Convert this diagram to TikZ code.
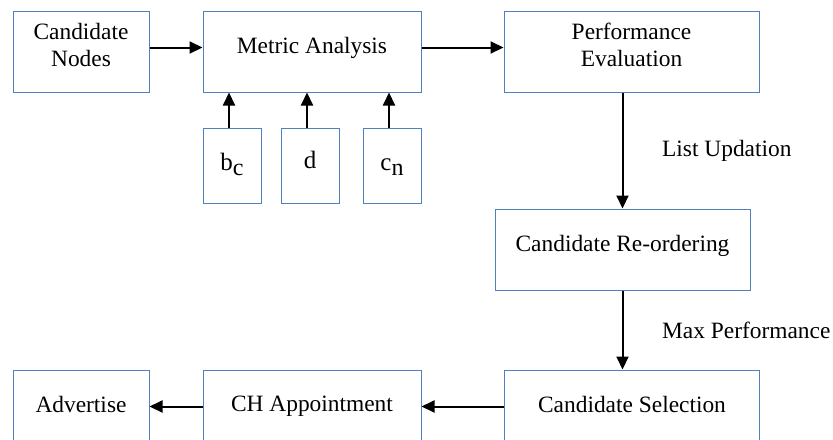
\documentclass[tikz,border=0pt]{standalone}
\usepackage{fontspec}
\setmainfont{Liberation Serif}
\usepackage{tikz}
\usetikzlibrary{arrows.meta,positioning}
\definecolor{boxBd}{HTML}{4F81BD}
\newcommand{\lowsub}[1]{\raisebox{-2.5pt}{\fontsize{12}{12}\selectfont #1}}
\tikzset{
  box/.style={
    rectangle, draw=boxBd, line width=0.5pt,
    align=center, inner sep=2pt, text depth=6.5pt,
    font=\fontsize{11.7}{13.5}\selectfont
  },
  wide/.style ={box, minimum width=127.5pt, minimum height=40.5pt},
  mid/.style  ={box, minimum width=109pt,   minimum height=40.5pt},
  narrow/.style={box, minimum width=68pt,   minimum height=40.5pt},
  metric/.style={box, minimum width=29pt,   minimum height=37.5pt,
    text height=8.5pt, text depth=4pt, font=\fontsize{12.5}{14}\selectfont},
  flow/.style={-{Triangle[length=6.5pt,width=6pt]}, line width=1pt, draw=black},
  note/.style={font=\fontsize{11.7}{13.5}\selectfont}
}
\begin{document}
\begin{tikzpicture}[x=0.5pt,y=-0.5pt]
  \clip (0,0) rectangle (833,439);

  % top row
  \node[narrow] (cn) at (81,51.5)    {Candidate\\Nodes};
  \node[mid]    (ma) at (312,51.5)   {Metric Analysis};
  \node[wide]   (pe) at (631.5,51.5) {Performance\\Evaluation};

  % metrics feeding the analysis
  \node[metric] (bc) at (232,165.5) {b\lowsub{c}};
  \node[metric, text depth=6pt] (dd) at (310,165.5) {d};
  \node[metric] (cnn) at (392,165.5) {c\lowsub{n}};

  % right column
  \node[wide] (cr) at (622.5,249.5) {Candidate Re-ordering};

  % bottom row (cut by the page edge)
  \node[wide]   (cs)  at (632,410.5) {Candidate Selection};
  \node[mid]    (ch)  at (312,410.5) {CH Appointment};
  \node[narrow] (adv) at (81,410.5)  {Advertise};

  \draw[flow] ([yshift=2pt]cn.east) -- ([yshift=2pt]ma.west);
  \draw[flow] ([yshift=2pt]ma.east) -- ([yshift=2pt]pe.west);
  \foreach \m in {bc,dd,cnn}
    \draw[flow] ([xshift=-1.5pt]\m.north) -- ([xshift=-1.5pt]\m.north |- ma.south);

  \draw[flow] (pe.south -| cr.north) -- node[note, right=16pt] {List Updation} (cr.north);
  \draw[flow] (cr.south) -- node[note, right=16pt] {Max Performance} (cr.south |- cs.north);

  \draw[flow] ([yshift=2pt]cs.west) -- ([yshift=2pt]ch.east);
  \draw[flow] ([yshift=2pt]ch.west) -- ([yshift=2pt]adv.east);
\end{tikzpicture}
\end{document}
